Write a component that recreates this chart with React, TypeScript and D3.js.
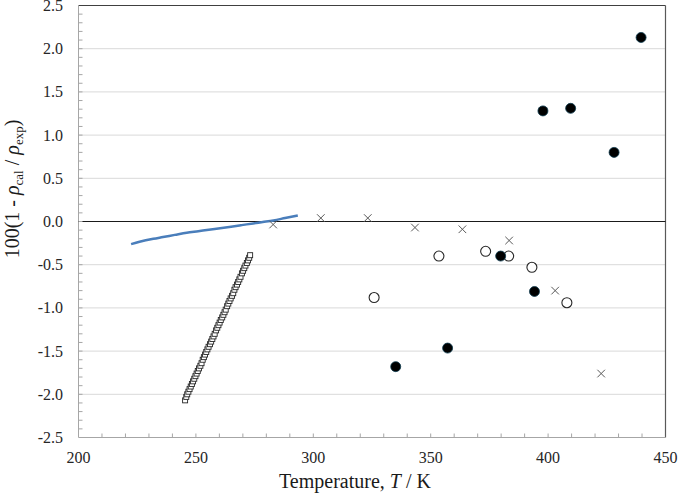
import React, { useEffect, useRef } from 'react';
import * as d3 from 'd3';

// blue smooth curve
const curveT = [222.4, 226, 231.9, 236, 241, 246.1, 251, 255.5, 260.3, 265, 269.5, 274.4, 278.5, 283, 288, 293.4];
const curveY = [-0.262, -0.235, -0.2, -0.18, -0.155, -0.13, -0.112, -0.095, -0.078, -0.06, -0.042, -0.022, -0.006, 0.012, 0.04, 0.07];

// open squares
const squareT = [
	245.4, 245.9, 246.3, 246.8, 247.3, 247.8, 248.3, 248.8, 249.3, 249.8, 250.3, 250.8, 251.3, 251.9,
	252.4, 252.9, 253.4, 253.9, 254.4, 254.9, 255.4, 256.0, 256.5, 257.0, 257.5, 258.0, 258.6, 259.1,
	259.6, 260.1, 260.6, 261.2, 261.7, 262.2, 262.7, 263.3, 263.8, 264.3, 264.8, 265.4, 265.9, 266.4,
	266.9, 267.5, 268.0, 268.5, 269.0, 269.6, 270.1, 270.6, 271.1, 271.7, 272.2, 272.7, 273.1,
];
const squareY = [
	-2.07, -2.03, -2.0, -1.97, -1.94, -1.91, -1.88, -1.85, -1.82, -1.79, -1.76, -1.73, -1.7, -1.67,
	-1.64, -1.6, -1.57, -1.54, -1.51, -1.48, -1.45, -1.42, -1.39, -1.36, -1.33, -1.3, -1.26, -1.23,
	-1.2, -1.17, -1.14, -1.11, -1.08, -1.05, -1.02, -0.98, -0.95, -0.92, -0.89, -0.86, -0.83, -0.79,
	-0.76, -0.73, -0.7, -0.67, -0.64, -0.6, -0.57, -0.54, -0.51, -0.48, -0.45, -0.42, -0.39,
];

// crosses
const crossT = [282.9, 303.2, 323.2, 343.3, 363.5, 383.4, 403.0, 422.6];
const crossY = [-0.035, 0.04, 0.04, -0.07, -0.09, -0.22, -0.8, -1.76];

// open circles
const openT = [325.9, 353.5, 373.4, 383.2, 393.1, 408.0];
const openY = [-0.88, -0.4, -0.345, -0.4, -0.53, -0.94];

// filled circles
const filledT = [335.1, 357.2, 379.8, 394.2, 397.8, 409.6, 428.1, 439.6];
const filledY = [-1.68, -1.465, -0.4, -0.81, 1.28, 1.31, 0.8, 2.13];

const xTicks = [200, 250, 300, 350, 400, 450];
const yTicks = [-2.5, -2.0, -1.5, -1.0, -0.5, 0.0, 0.5, 1.0, 1.5, 2.0, 2.5];

const FONT = '"Liberation Serif", "Times New Roman", serif';

export default function App() {
	const ref = useRef<SVGSVGElement>(null);

	useEffect(() => {
		const svg = d3.select(ref.current);
		svg.selectAll('*').remove();

		const left = 78.5, right = 665.5, top = 5.5, bottom = 437.5;
		const x = d3.scaleLinear().domain([200, 450]).range([left, right]);
		const y = d3.scaleLinear().domain([-2.5, 2.5]).range([bottom, top]);

		// grid
		svg.append('g')
			.selectAll('line')
			.data(yTicks.filter((v) => v > -2.5 && v < 2.5 && v !== 0))
			.enter()
			.append('line')
			.attr('x1', left).attr('x2', right)
			.attr('y1', (d) => y(d)).attr('y2', (d) => y(d))
			.attr('stroke', '#d9d9d9').attr('stroke-width', 1);

		// frame
		svg.append('line').attr('x1', left).attr('x2', right).attr('y1', top).attr('y2', top)
			.attr('stroke', '#404040').attr('stroke-width', 1.2);
		svg.append('line').attr('x1', right).attr('x2', right).attr('y1', top).attr('y2', bottom)
			.attr('stroke', '#595959').attr('stroke-width', 1.2);
		svg.append('line').attr('x1', left).attr('x2', left).attr('y1', top).attr('y2', bottom)
			.attr('stroke', '#a6a6a6').attr('stroke-width', 1);
		svg.append('line').attr('x1', left).attr('x2', right).attr('y1', bottom).attr('y2', bottom)
			.attr('stroke', '#a6a6a6').attr('stroke-width', 1);
		svg.append('line').attr('x1', left).attr('x2', right).attr('y1', y(0)).attr('y2', y(0))
			.attr('stroke', '#1a1a1a').attr('stroke-width', 1);

		// minor ticks
		const yMinor = d3.range(-24, 25).map((i) => i / 10);
		svg.append('g')
			.selectAll('line')
			.data(yMinor)
			.enter()
			.append('line')
			.attr('x1', left).attr('x2', left + 4)
			.attr('y1', (d) => y(d)).attr('y2', (d) => y(d))
			.attr('stroke', '#a6a6a6');
		const xMinor = d3.range(210, 450, 10);
		svg.append('g')
			.selectAll('line')
			.data(xMinor)
			.enter()
			.append('line')
			.attr('x1', (d) => x(d)).attr('x2', (d) => x(d))
			.attr('y1', bottom).attr('y2', bottom - 4)
			.attr('stroke', '#a6a6a6');

		// tick labels
		svg.append('g')
			.selectAll('text')
			.data(yTicks)
			.enter()
			.append('text')
			.attr('x', 63)
			.attr('y', (d) => y(d) + 5.5)
			.attr('text-anchor', 'end')
			.attr('font-family', FONT).attr('font-size', 16).attr('fill', '#262626')
			.text((d) => d3.format('.1f')(d).replace('−', '-'));
		svg.append('g')
			.selectAll('text')
			.data(xTicks)
			.enter()
			.append('text')
			.attr('x', (d) => x(d))
			.attr('y', 463)
			.attr('text-anchor', 'middle')
			.attr('font-family', FONT).attr('font-size', 16).attr('fill', '#262626')
			.text((d) => d);

		// axis titles
		const xt = svg.append('text')
			.attr('x', 355).attr('y', 488)
			.attr('text-anchor', 'middle')
			.attr('font-family', FONT).attr('font-size', 20).attr('fill', '#1a1a1a');
		xt.append('tspan').text('Temperature, ');
		xt.append('tspan').attr('font-style', 'italic').text('T');
		xt.append('tspan').text(' / K');

		const yt = svg.append('text')
			.attr('transform', 'translate(19,189) rotate(-90)')
			.attr('text-anchor', 'middle')
			.attr('font-family', FONT).attr('font-size', 20).attr('fill', '#1a1a1a');
		yt.append('tspan').text('100(1 - ');
		yt.append('tspan').attr('font-style', 'italic').text('ρ');
		yt.append('tspan').attr('font-size', 13).attr('dy', 4).text('cal');
		yt.append('tspan').attr('dy', -4).text(' / ');
		yt.append('tspan').attr('font-style', 'italic').text('ρ');
		yt.append('tspan').attr('font-size', 13).attr('dy', 4).text('exp');
		yt.append('tspan').attr('dy', -4).text(')');

		// blue curve
		const line = d3.line<number>()
			.x((d, i) => x(curveT[i]))
			.y((d) => y(d))
			.curve(d3.curveMonotoneX);
		svg.append('path')
			.attr('d', line(curveY))
			.attr('fill', 'none')
			.attr('stroke', '#4a7ebb')
			.attr('stroke-width', 2.5);

		// squares
		svg.append('g')
			.selectAll('rect')
			.data(squareY)
			.enter()
			.append('rect')
			.attr('x', (d, i) => x(squareT[i]) - 2.5)
			.attr('y', (d) => y(d) - 2.5)
			.attr('width', 5).attr('height', 5)
			.attr('fill', '#fff').attr('stroke', '#262626').attr('stroke-width', 0.9);

		// crosses
		const cross = svg.append('g').attr('stroke', '#595959').attr('stroke-width', 1);
		crossY.forEach((v, i) => {
			const cx = x(crossT[i]), cy = y(v), s = 3.8;
			cross.append('line').attr('x1', cx - s).attr('x2', cx + s).attr('y1', cy - s).attr('y2', cy + s);
			cross.append('line').attr('x1', cx - s).attr('x2', cx + s).attr('y1', cy + s).attr('y2', cy - s);
		});

		// open circles
		svg.append('g')
			.selectAll('circle')
			.data(openY)
			.enter()
			.append('circle')
			.attr('cx', (d, i) => x(openT[i]))
			.attr('cy', (d) => y(d))
			.attr('r', 5)
			.attr('fill', '#fff').attr('stroke', '#262626').attr('stroke-width', 1.1);

		// filled circles
		svg.append('g')
			.selectAll('circle')
			.data(filledY)
			.enter()
			.append('circle')
			.attr('cx', (d, i) => x(filledT[i]))
			.attr('cy', (d) => y(d))
			.attr('r', 5)
			.attr('fill', '#000').attr('stroke', '#0d3b4f').attr('stroke-width', 0.8);
	}, []);

	return (
		<svg
			ref={ref}
			width={679}
			height={496}
			style={{ position: 'absolute', left: 0, top: 0, background: '#fff' }}
		/>
	);
}
